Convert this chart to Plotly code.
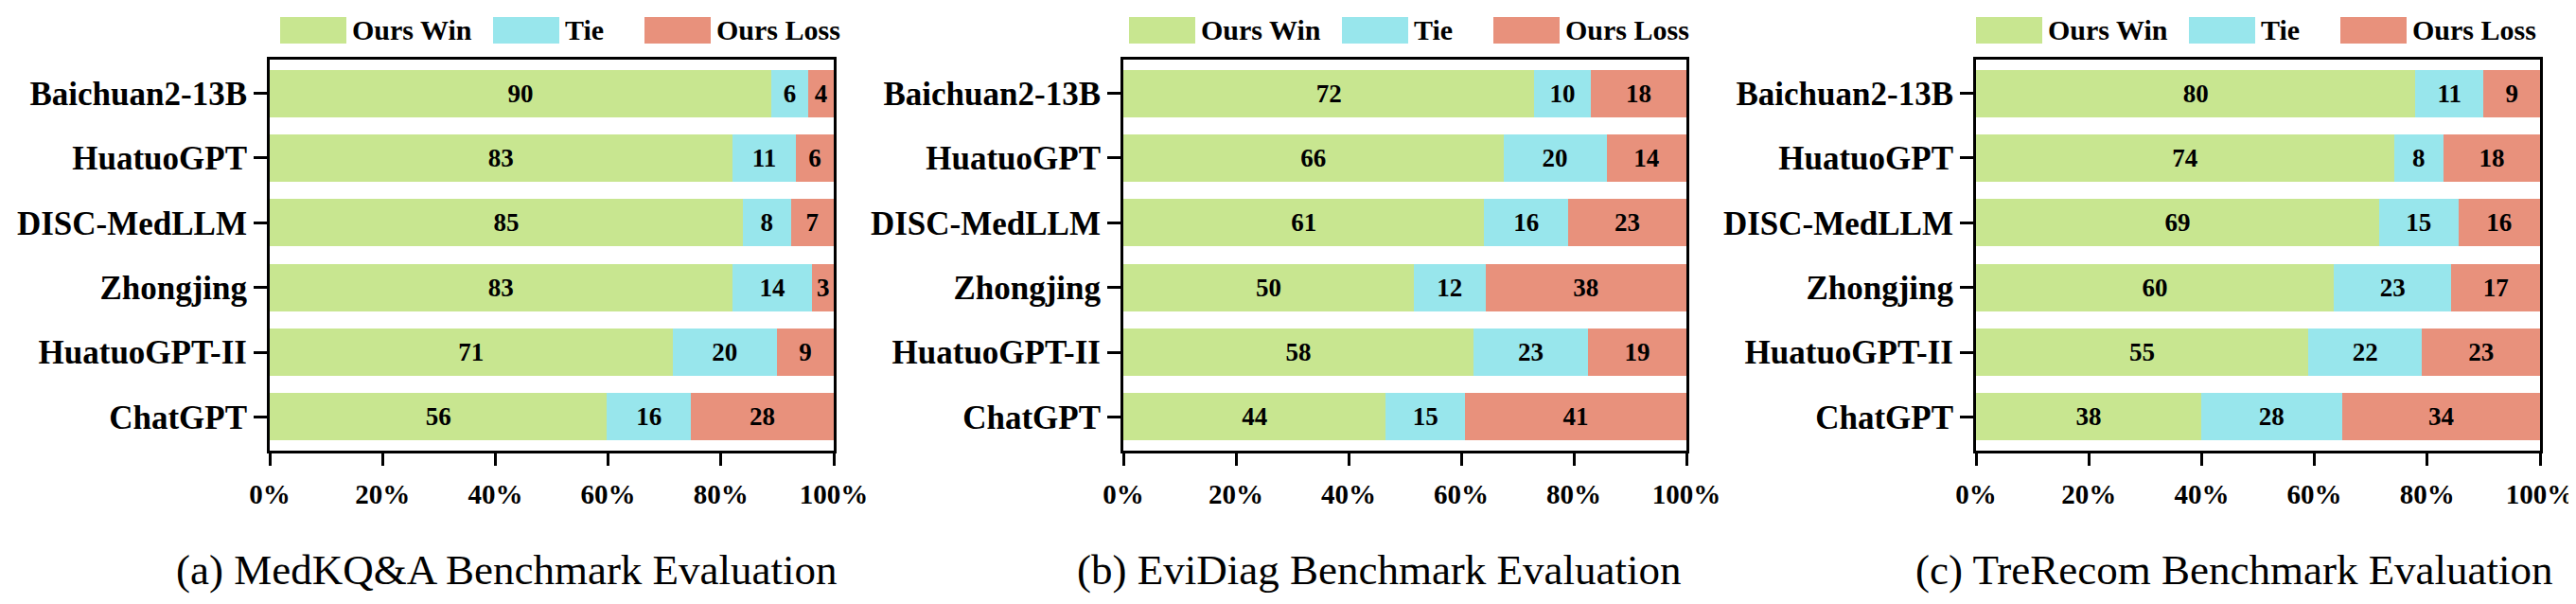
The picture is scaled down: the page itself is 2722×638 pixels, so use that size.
import plotly.graph_objects as go

models = ["Baichuan2-13B", "HuatuoGPT", "DISC-MedLLM", "Zhongjing", "HuatuoGPT-II", "ChatGPT"]
series_names = ["Ours Win", "Tie", "Ours Loss"]
captions = ["(a) MedKQ&A Benchmark Evaluation", "(b) EviDiag Benchmark Evaluation",
            "(c) TreRecom Benchmark Evaluation"]
x_tickvals = [0, 20, 40, 60, 80, 100]
x_ticktext = ["0%", "20%", "40%", "60%", "80%", "100%"]

# bar lengths (percent) as drawn
win_a = [88.9, 82.0, 83.9, 82.0, 71.4, 59.8]
tie_a = [6.6, 11.3, 8.5, 14.2, 18.5, 14.9]
loss_a = [4.5, 6.7, 7.6, 3.8, 10.1, 25.3]
win_b = [73.0, 67.5, 64.1, 51.6, 62.2, 46.6]
tie_b = [10.0, 18.3, 14.9, 12.7, 20.3, 14.1]
loss_b = [17.0, 14.2, 21.0, 35.7, 17.5, 39.3]
win_c = [77.9, 74.1, 71.5, 63.4, 58.9, 39.9]
tie_c = [12.1, 8.8, 14.0, 20.9, 20.2, 25.0]
loss_c = [10.0, 17.1, 14.5, 15.7, 20.9, 35.1]

# printed labels
win_a_lbl = [90, 83, 85, 83, 71, 56]
tie_a_lbl = [6, 11, 8, 14, 20, 16]
loss_a_lbl = [4, 6, 7, 3, 9, 28]
win_b_lbl = [72, 66, 61, 50, 58, 44]
tie_b_lbl = [10, 20, 16, 12, 23, 15]
loss_b_lbl = [18, 14, 23, 38, 19, 41]
win_c_lbl = [80, 74, 69, 60, 55, 38]
tie_c_lbl = [11, 8, 15, 23, 22, 28]
loss_c_lbl = [9, 18, 16, 17, 23, 34]

W, H = 2722, 638
colors = ["#C8E690", "#98E6EC", "#E8917C"]
FONT = "Liberation Serif"

panels = [
    ([win_a, tie_a, loss_a], [win_a_lbl, tie_a_lbl, loss_a_lbl]),
    ([win_b, tie_b, loss_b], [win_b_lbl, tie_b_lbl, loss_b_lbl]),
    ([win_c, tie_c, loss_c], [win_c_lbl, tie_c_lbl, loss_c_lbl]),
]
frame_px = [(277, 873), (1179, 1774), (2080, 2676)]
legend_base = [288, 1185, 2080]
caption_cx = [527, 1449, 2353]
y_top, y_bot = 55, 468

fig = go.Figure()
layout = dict(
    width=W, height=H, autosize=False,
    margin=dict(l=0, r=0, t=0, b=0),
    paper_bgcolor="white", plot_bgcolor="white",
    barmode="stack", bargap=0.27, showlegend=False,
    font=dict(family=FONT, color="black"),
    shapes=[], annotations=[],
)

for i, (vals, lbls) in enumerate(panels):
    xa = "x" if i == 0 else f"x{i+1}"
    ya = "y" if i == 0 else f"y{i+1}"
    for s in range(3):
        fig.add_trace(go.Bar(
            y=models, x=vals[s], orientation="h", name=series_names[s],
            marker=dict(color=colors[s], line=dict(width=0)),
            text=[str(v) for v in lbls[s]], textposition="inside",
            insidetextanchor="middle", textangle=0, constraintext="none",
            textfont=dict(family=FONT, size=27, color="black", weight="bold"),
            xaxis=xa, yaxis=ya, showlegend=False,
        ))
    x0, x1 = frame_px[i]
    kx = "xaxis" if i == 0 else f"xaxis{i+1}"
    ky = "yaxis" if i == 0 else f"yaxis{i+1}"
    layout[kx] = dict(
        domain=[x0 / W, x1 / W], anchor=ya, range=[0, 100],
        tickmode="array", tickvals=x_tickvals, ticktext=x_ticktext,
        showgrid=False, zeroline=False,
        showline=True, mirror=True, linecolor="black", linewidth=3,
        ticks="outside", ticklen=13, tickwidth=3, tickcolor="black",
        ticklabelstandoff=5,
        tickfont=dict(family=FONT, size=29, color="black", weight="bold"),
        automargin=False, fixedrange=True,
    )
    layout[ky] = dict(
        domain=[1 - y_bot / H, 1 - y_top / H], anchor=xa,
        categoryorder="array", categoryarray=models, range=[5.52, -0.52],
        showgrid=False, zeroline=False,
        showline=True, mirror=True, linecolor="black", linewidth=3,
        ticks="outside", ticklen=14, tickwidth=3, tickcolor="black",
        tickfont=dict(family=FONT, size=35, color="black", weight="bold"),
        automargin=False, fixedrange=True,
    )
    # legend (manual)
    b = legend_base[i]
    offs = [(0, 74), (225, 299), (385, 459)]
    for s, (so, to) in enumerate(offs):
        layout["shapes"].append(dict(
            type="rect", xref="paper", yref="paper",
            x0=(b + so) / W, x1=(b + so + 70) / W,
            y0=1 - 38 / H, y1=1 - 10 / H,
            fillcolor=colors[s], line=dict(width=0),
        ))
        layout["annotations"].append(dict(
            text=series_names[s], xref="paper", yref="paper",
            x=(b + to) / W, y=1 - 24 / H, xanchor="left", yanchor="middle",
            showarrow=False,
            font=dict(family=FONT, size=30, color="black", weight="bold"),
        ))
    layout["annotations"].append(dict(
        text=captions[i], xref="paper", yref="paper",
        x=caption_cx[i] / W, y=1 - 594 / H, xanchor="center", yanchor="middle",
        showarrow=False, font=dict(family=FONT, size=45, color="black"),
    ))

fig.update_layout(**layout)
fig.write_html("out.html")
